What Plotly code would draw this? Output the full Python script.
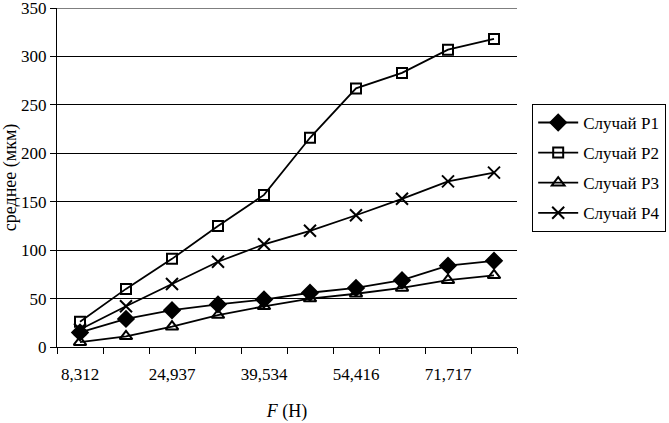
import plotly.graph_objects as go

n_points = 10
f_tick_labels = ["8,312", "24,937", "39,534", "54,416", "71,717"]
f_tick_index = [0, 2, 4, 6, 8]

p1 = [15, 29, 38, 44, 49, 56, 61, 69, 84, 89]
p2 = [26, 60, 91, 125, 157, 216, 267, 283, 307, 318]
p3 = [5, 11, 21, 33, 42, 50, 55, 61, 69, 74]
p4 = [18, 42, 65, 88, 106, 120, 136, 153, 171, 180]

names = ["Случай P1", "Случай P2", "Случай P3", "Случай P4"]
series = [p1, p2, p3, p4]
symbols = ["diamond", "square-open", "triangle-up-open", "x-thin-open"]
sizes = [12, 10, 11, 12]

y_ticks = [0, 50, 100, 150, 200, 250, 300, 350]

x = list(range(n_points))
FONT = "Liberation Serif"

fig = go.Figure()
for nm, vals, sym, sz in zip(names, series, symbols, sizes):
    fig.add_trace(go.Scatter(
        x=x, y=vals, name=nm, mode="lines+markers", legendgroup=nm,
        line=dict(color="black", width=1.8),
        marker=dict(symbol=sym, size=sz, color="black",
                    line=dict(color="black", width=2)),
        cliponaxis=False,
    ))

# top gridline (plotly drops the grid line that sits on the plot edge)
fig.add_shape(type="line", xref="paper", yref="y", x0=0, x1=1,
              y0=y_ticks[-1], y1=y_ticks[-1], line=dict(color="black", width=1),
              layer="below")

fig.update_layout(
    width=669, height=423,
    margin=dict(l=57, r=152, t=8, b=76, autoexpand=False),
    paper_bgcolor="white", plot_bgcolor="white",
    font=dict(family=FONT, size=17, color="black"),
    showlegend=True,
    legend=dict(
        x=1.033, y=0.717, xanchor="left", yanchor="top",
        bordercolor="black", borderwidth=1, bgcolor="white",
        font=dict(family=FONT, size=17, color="black"),
        tracegroupgap=5, itemwidth=40, entrywidth=127, entrywidthmode="pixels",
    ),
)

fig.update_xaxes(
    range=[-0.5, n_points - 0.5],
    tickvals=f_tick_index, ticktext=f_tick_labels,
    ticks="outside", ticklen=12, tickcolor="rgba(0,0,0,0)",
    minor=dict(tick0=-0.5, dtick=1, ticks="outside", ticklen=6,
               tickcolor="black", tickwidth=1, showgrid=False),
    showline=True, linecolor="black", linewidth=1,
    showgrid=False, zeroline=False, automargin=False,
    title=dict(text="<i>F</i> (Н)", font=dict(family=FONT, size=18), standoff=20),
)
fig.update_yaxes(
    range=[0, 350], tickvals=y_ticks, ticklabeloverflow="allow",
    ticks="outside", ticklen=6, tickcolor="black",
    showline=True, linecolor="black", linewidth=1,
    showgrid=True, gridcolor="black", gridwidth=1, zeroline=False,
    automargin=False,
    title=dict(text="среднее (мкм)", font=dict(family=FONT, size=18), standoff=2),
)

fig.write_html("out.html", config={"displayModeBar": False},
               post_script="document.body.style.margin='0';")
